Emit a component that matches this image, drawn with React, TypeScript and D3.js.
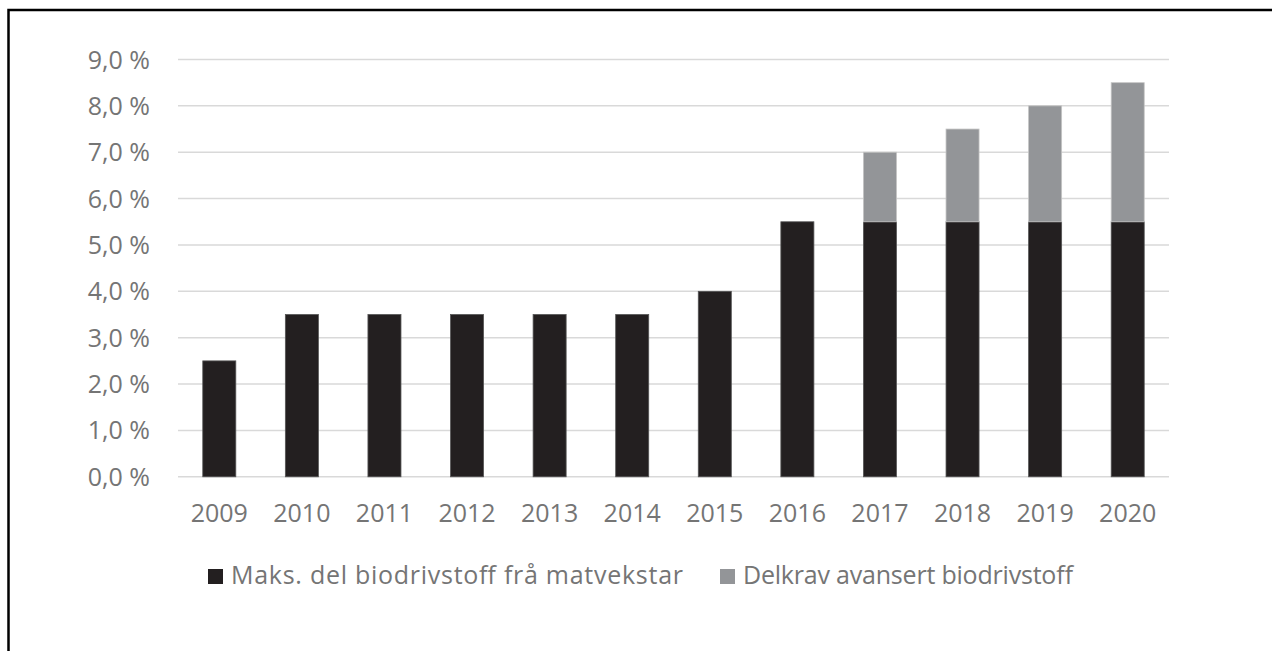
import React from "react";
import * as d3 from "d3";

const years = ["2009","2010","2011","2012","2013","2014","2015","2016","2017","2018","2019","2020"];
const maksDel = [2.5, 3.5, 3.5, 3.5, 3.5, 3.5, 4.0, 5.5, 5.5, 5.5, 5.5, 5.5];
const delkrav = [0, 0, 0, 0, 0, 0, 0, 0, 1.5, 2.0, 2.5, 3.0];
const yTicks = [0, 1, 2, 3, 4, 5, 6, 7, 8, 9];
const seriesNames = ["Maks. del biodrivstoff frå matvekstar", "Delkrav avansert biodrivstoff"];
const seriesColors = ["#231f20", "#939598"];

const W = 1272, H = 651;
const FONT = "'Open Sans', 'Noto Sans', sans-serif";
const TEXT = "#757575";

export default function App() {
  const x = d3.scaleBand<string>().domain(years).range([178, 1169]).paddingInner(0.6).paddingOuter(0.3);
  const y = d3.scaleLinear().domain([0, 9]).range([476.8, 59.5]);
  const rows = years.map((yr, i) => ({ yr, a: maksDel[i], b: delkrav[i] }));
  const stack = d3.stack<any>().keys(["a", "b"])(rows);
  const fmt = (v: number) => v.toFixed(1).replace(".", ",") + " %";
  const legendX = [208, 720];
  const legendLen = [452, 330];

  return (
    <svg width={W} height={H} style={{ position: "absolute", left: 0, top: 0, display: "block" }} fontFamily={FONT}>
      <rect x={0} y={0} width={W} height={H} fill="#fff" />
      <rect x={8.5} y={10} width={W + 20} height={H + 20} fill="none" stroke="#000" strokeWidth={2.5} />
      {yTicks.map((t) => (
        <g key={t}>
          <line x1={178} x2={1169} y1={y(t)} y2={y(t)} stroke="#d9d9d9" strokeWidth={1.5} />
          <text x={150} y={y(t) + 9} textAnchor="end" fontSize={25} fill={TEXT}>{fmt(t)}</text>
        </g>
      ))}
      {stack.map((s, si) => (
        <g key={si}>
          {s.map((d: any, i: number) => {
            const h = y(d[0]) - y(d[1]);
            if (h <= 0) return null;
            return (
              <rect key={i} x={x(years[i])!} y={y(d[1])} width={x.bandwidth()} height={h}
                fill={seriesColors[si]} stroke={si === 0 ? "#555" : "#c4c4c4"} strokeWidth={0.8} />
            );
          })}
        </g>
      ))}
      {years.map((yr) => (
        <text key={yr} x={x(yr)! + x.bandwidth() / 2} y={522} textAnchor="middle" fontSize={25} fill={TEXT}>{yr}</text>
      ))}
      {seriesNames.map((n, i) => (
        <g key={n}>
          <rect x={legendX[i]} y={569} width={15} height={15} fill={seriesColors[i]} />
          <text x={legendX[i] + 23} y={584} fontSize={25} fill={TEXT} textLength={legendLen[i]} lengthAdjust="spacing">{n}</text>
        </g>
      ))}
    </svg>
  );
}
